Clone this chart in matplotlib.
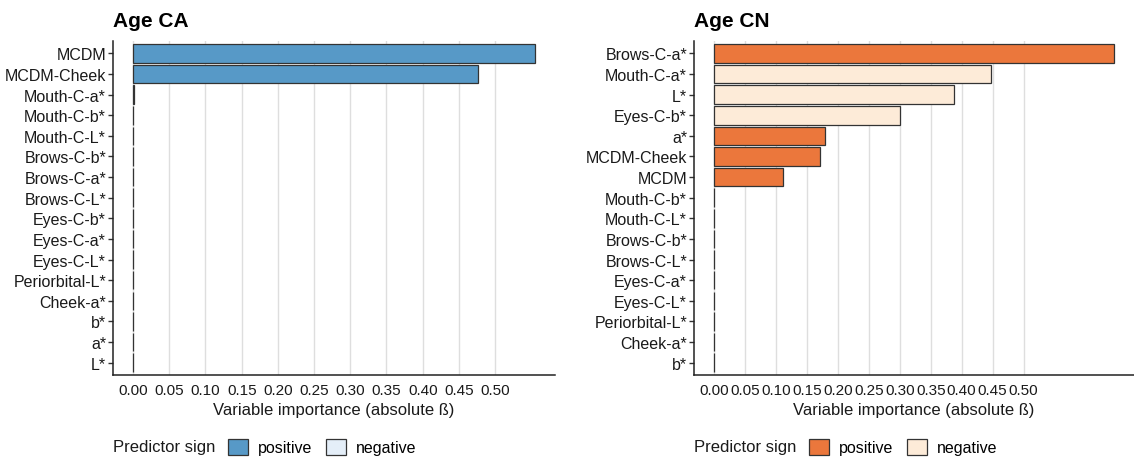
import matplotlib
matplotlib.use("Agg")
import matplotlib.pyplot as plt
from matplotlib.patches import Patch
import numpy as np

plt.rcParams['font.family'] = ['Liberation Sans', 'DejaVu Sans']

# Age CA model: predictors (top to bottom), |beta| and sign
ca_labels = ["MCDM", "MCDM-Cheek", "Mouth-C-a*", "Mouth-C-b*", "Mouth-C-L*",
             "Brows-C-b*", "Brows-C-a*", "Brows-C-L*", "Eyes-C-b*", "Eyes-C-a*",
             "Eyes-C-L*", "Periorbital-L*", "Cheek-a*", "b*", "a*", "L*"]
ca_values = [0.555, 0.477, 0.0015, 0, 0, 0, 0, 0, 0, 0, 0, 0, 0, 0, 0, 0]
ca_positive = [True, True, True, True, True, True, True, True, True, True,
               True, True, True, True, True, True]

# Age CN model
cn_labels = ["Brows-C-a*", "Mouth-C-a*", "L*", "Eyes-C-b*", "a*", "MCDM-Cheek",
             "MCDM", "Mouth-C-b*", "Mouth-C-L*", "Brows-C-b*", "Brows-C-L*",
             "Eyes-C-a*", "Eyes-C-L*", "Periorbital-L*", "Cheek-a*", "b*"]
cn_values = [0.646, 0.448, 0.388, 0.300, 0.179, 0.171, 0.111,
             0, 0, 0, 0, 0, 0, 0, 0, 0]
cn_positive = [True, False, False, False, True, True, True,
               True, True, True, True, True, True, True, True, True]

x_ticks = np.round(np.arange(0, 0.5001, 0.05), 2)
x_ticklabels = [f"{t:.2f}" for t in x_ticks]

W, H = 1134, 460
fig = plt.figure(figsize=(W / 100, H / 100), dpi=100)

EDGE = "#333333"
TXT = "#1a1a1a"


def panel(rect, title, labels, values, positive, pos_col, neg_col):
    l, r, t, b = rect
    ax = fig.add_axes([l / W, 1 - b / H, (r - l) / W, (b - t) / H])
    n = len(labels)
    y = np.arange(n)[::-1]
    cols = [pos_col if p else neg_col for p in positive]
    for xt in x_ticks:
        ax.axvline(xt, color="#DEDEDE", lw=1.0, zorder=0)
    ax.barh(y, values, height=0.9, color=cols, edgecolor=EDGE,
            linewidth=0.9, zorder=2)
    vmax = max(values)
    pad = 0.05 * vmax
    ax.set_xlim(-pad, vmax + pad)
    ax.set_ylim(-0.6, n - 1 + 0.6)
    ax.set_yticks(y)
    ax.set_yticklabels(labels, fontsize=11.5, color=TXT)
    ax.set_xticks(x_ticks)
    ax.set_xticklabels(x_ticklabels, fontsize=11, color=TXT)
    ax.tick_params(axis="x", length=0, pad=6)
    ax.tick_params(axis="y", length=3.5, width=1, color="#333333", pad=1.5)
    for s in ("top", "right"):
        ax.spines[s].set_visible(False)
    for s in ("left", "bottom"):
        ax.spines[s].set_color("#222222")
        ax.spines[s].set_linewidth(1.1)
    ax.set_xlabel("Variable importance (absolute ß)", fontsize=12,
                  color=TXT, labelpad=3)
    ax.set_title(title, loc="left", fontsize=15, fontweight="bold", pad=11)

    # legend row beneath the panel
    fig.text(l / W, 1 - 448 / H, "Predictor sign", fontsize=12,
             va="center", ha="left", color=TXT)
    handles = [Patch(facecolor=pos_col, edgecolor=EDGE, linewidth=0.9, label="positive"),
               Patch(facecolor=neg_col, edgecolor=EDGE, linewidth=0.9, label="negative")]
    fig.legend(handles=handles, loc="center left", ncol=2, frameon=False,
               bbox_to_anchor=((l + 115) / W, 1 - 448 / H),
               fontsize=11.5, handlelength=1.25, handleheight=1.25,
               handletextpad=0.6, columnspacing=0.9, borderpad=0,
               borderaxespad=0)
    return ax


panel((113, 555, 42, 376), "Age CA", ca_labels, ca_values, ca_positive,
      "#5799C7", "#E4EEF8")
panel((694, 1134, 42, 376), "Age CN", cn_labels, cn_values, cn_positive,
      "#EB773C", "#FDEBD8")

fig.savefig("out.png", dpi=100)
